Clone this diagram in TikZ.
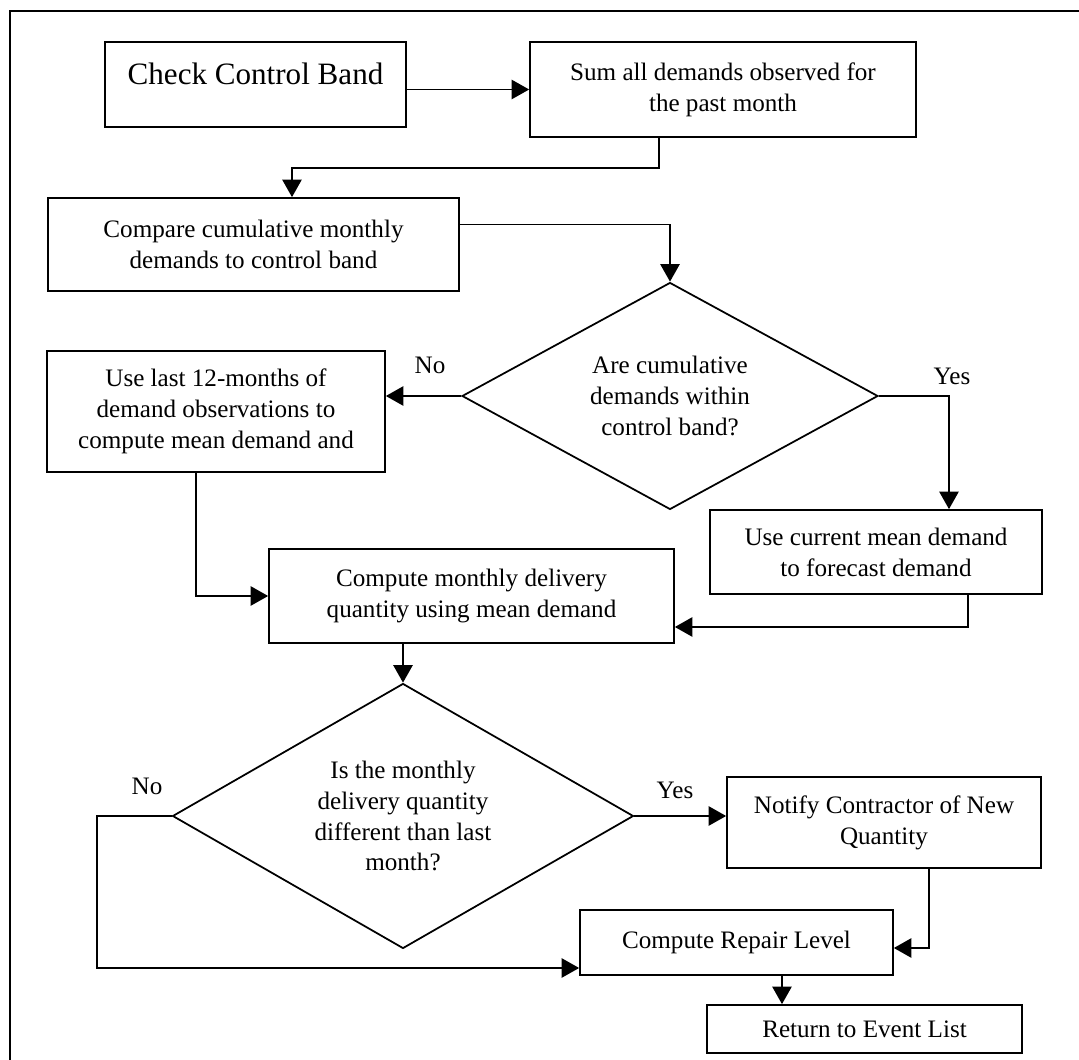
\documentclass[tikz,border=0pt]{standalone}
\usepackage{fontspec}
\setmainfont{Liberation Serif}
\usepackage{tikz}
\usetikzlibrary{arrows.meta,shapes.geometric,calc}
\tikzstyle{blk}=[rectangle,draw=black,line width=1pt,inner sep=2pt,
  align=center,font=\fontsize{14.3}{17.6}\selectfont]
\tikzstyle{dec}=[diamond,draw=black,line width=1pt,inner sep=0pt,aspect=1.8,
  align=center,font=\fontsize{14.3}{17.6}\selectfont]
\tikzstyle{lbl}=[inner sep=0pt,font=\fontsize{14.3}{17.6}\selectfont]
\tikzstyle{arr}=[line width=1pt,-{Triangle[length=10pt,width=11pt]}]

\begin{document}
\begin{tikzpicture}[x=0.02cm,y=-0.02cm]
        \useasboundingbox (0,0) rectangle (1079,1060);
        \draw [line width=1.2pt] (10,1060) -- (10,11) -- (1079,11);
        \node [style=blk,minimum width=6.02cm,minimum height=1.70cm] (check) at (255.5,84.5)
          {\fontsize{17.7}{21}\selectfont\raisebox{6pt}[\height][\depth]{Check Control Band}};
        \node [style=blk,minimum width=7.72cm,minimum height=1.90cm] (sum) at (723,89.5)
          {Sum all demands observed for\\the past month};
        \node [style=blk,minimum width=8.22cm,minimum height=1.86cm] (compare) at (253.5,244.5)
          {Compare cumulative monthly\\demands to control band};
        \node [style=dec,minimum width=8.32cm,minimum height=4.54cm] (dec1) at (670,396)
          {Are cumulative\\demands within\\control band?};
        \node [style=blk,minimum width=6.76cm,minimum height=2.42cm] (uselast) at (216,411.5)
          {Use last 12-months of\\demand observations to\\compute mean demand and};
        \node [style=blk,minimum width=6.64cm,minimum height=1.68cm] (usecur) at (876,552)
          {Use current mean demand\\to forecast demand};
        \node [style=blk,minimum width=8.10cm,minimum height=1.88cm] (compute) at (471.5,596)
          {Compute monthly delivery\\quantity using mean demand};
        \node [style=dec,minimum width=9.22cm,minimum height=5.30cm] (dec2) at (403,816)
          {Is the monthly\\delivery quantity\\different than last\\month?};
        \node [style=blk,minimum width=6.28cm,minimum height=1.82cm] (notify) at (884,822.5)
          {Notify Contractor of New\\Quantity};
        \node [style=blk,minimum width=6.26cm,minimum height=1.30cm] (repair) at (736.5,942.5)
          {Compute Repair Level};
        \node [style=blk,minimum width=6.30cm,minimum height=0.96cm] (ret) at (864.5,1029)
          {Return to Event List};
        \node [style=lbl] (no1) at (430,365) {No};
        \node [style=lbl] (yes1) at (952,376) {Yes};
        \node [style=lbl] (no2) at (147,786) {No};
        \node [style=lbl] (yes2) at (675,790) {Yes};
        \draw [style=arr] (check.east |- sum.west) to (sum.west);
        \draw [style=arr] ([xshift=-1.28cm]sum.south) -- ++(0,30) -| ([xshift=0.77cm]compare.north);
        \draw [style=arr] ([yshift=0.4cm]compare.east) -| (dec1.north);
        \draw [style=arr] (dec1.west) to (dec1.west -| uselast.east);
        \draw [style=arr] (dec1.east) -| ([xshift=1.46cm]usecur.north);
        \draw [style=arr] ([xshift=-0.4cm]uselast.south) |- (compute.west);
        \draw [style=arr] ([xshift=1.84cm]usecur.south) |- ([yshift=-0.62cm]compute.east);
        \draw [style=arr] (compute.south -| dec2.north) to (dec2.north);
        \draw [style=arr] (dec2.west) -- ++(-75,0) |- ([yshift=-0.51cm]repair.west);
        \draw [style=arr] (dec2.east) to (dec2.east -| notify.west);
        \draw [style=arr] ([xshift=0.9cm]notify.south) |- ([yshift=-0.11cm]repair.east);
        \draw [style=arr] ([xshift=0.91cm]repair.south) to ([xshift=0.91cm]repair.south |- ret.north);
    \end{tikzpicture}
\end{document}
